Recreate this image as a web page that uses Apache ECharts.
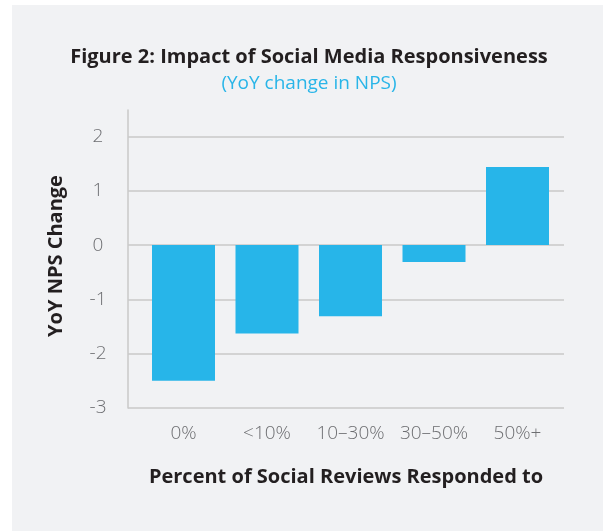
<!DOCTYPE html>
<html>
<head>
<meta charset="utf-8">
<script src="https://cdn.jsdelivr.net/npm/echarts@6/dist/echarts.min.js"></script>
<style>
html,body{margin:0;padding:0;background:#ffffff;}
#bg{position:absolute;left:12px;top:5px;width:591px;height:526px;background:#f1f2f4;}
#chart{position:absolute;left:0;top:0;width:603px;height:531px;}
</style>
</head>
<body>
<div id="bg"></div>
<div id="chart"></div>
<script>
const categories = ['0%', '<10%', '10\u201330%', '30\u201350%', '50%+'];
const values = [-2.5, -1.63, -1.31, -0.31, 1.44];
const yTicks = { min: -3, max: 2, interval: 1 };
const titleText = 'Figure 2: Impact of Social Media Responsiveness';
const subtitleText = '(YoY change in NPS)';
const yName = 'YoY NPS Change';
const xName = 'Percent of Social Reviews Responded to';

const FONT = '"Open Sans", sans-serif';
const GRID_COLOR = '#c8c8c8';
const chart = echarts.init(document.getElementById('chart'), null, {renderer: 'canvas'});
chart.setOption({
  backgroundColor: 'transparent',
  animation: false,
  grid: [
    { left: 128, right: 39, top: 136.5, bottom: 123 },
    { left: 141.75, right: 43.75, top: 136.5, bottom: 123 },
    { left: 128, right: 39, top: 110, bottom: 123 }
  ],
  xAxis: [
    { type: 'category', gridIndex: 0, data: categories, show: false },
    { type: 'category', gridIndex: 1, data: categories,
      axisLine: { show: false }, axisTick: { show: false },
      axisLabel: { margin: 16, fontFamily: FONT, fontWeight: 300, fontSize: 19, color: '#6d6e71', interval: 0 } },
    { type: 'category', gridIndex: 2, data: categories, show: false }
  ],
  yAxis: [
    { type: 'value', gridIndex: 0, min: yTicks.min, max: yTicks.max, interval: yTicks.interval,
      axisLine: { show: false },
      axisTick: { show: false },
      splitLine: { show: true, lineStyle: { color: GRID_COLOR, width: 1.5 } },
      axisLabel: { margin: 30, align: 'center', fontFamily: FONT, fontWeight: 300, fontSize: 19, color: '#6d6e71' } },
    { type: 'value', gridIndex: 1, min: yTicks.min, max: yTicks.max, interval: yTicks.interval, show: false,
      splitLine: { show: false } },
    { type: 'value', gridIndex: 2, min: yTicks.min, max: yTicks.max,
      axisLine: { show: true, lineStyle: { color: GRID_COLOR, width: 1.5 } },
      axisTick: { show: false }, axisLabel: { show: false }, splitLine: { show: false } }
  ],
  graphic: [
    { type: 'text', x: 309, y: 57.5, style: { text: titleText, fontFamily: FONT, fontWeight: 'bold', fontSize: 20,
      fill: '#231f20', align: 'center', verticalAlign: 'middle' } },
    { type: 'text', x: 309, y: 83.5, style: { text: subtitleText, fontFamily: FONT, fontWeight: 'normal', fontSize: 19,
      fill: '#29b5e8', align: 'center', verticalAlign: 'middle' } },
    { type: 'text', x: 346, y: 477, style: { text: xName, fontFamily: FONT, fontWeight: 'bold', fontSize: 20,
      fill: '#231f20', align: 'center', verticalAlign: 'middle' } },
    { type: 'text', x: 56, y: 256, rotation: Math.PI / 2, style: { text: yName, fontFamily: FONT, fontWeight: 'bold', fontSize: 20,
      fill: '#231f20', align: 'center', verticalAlign: 'middle' } }
  ],
  series: [
    { type: 'bar', xAxisIndex: 1, yAxisIndex: 1, data: values, barWidth: 63,
      itemStyle: { color: '#27b5e9' } }
  ]
});
</script>
</body>
</html>
